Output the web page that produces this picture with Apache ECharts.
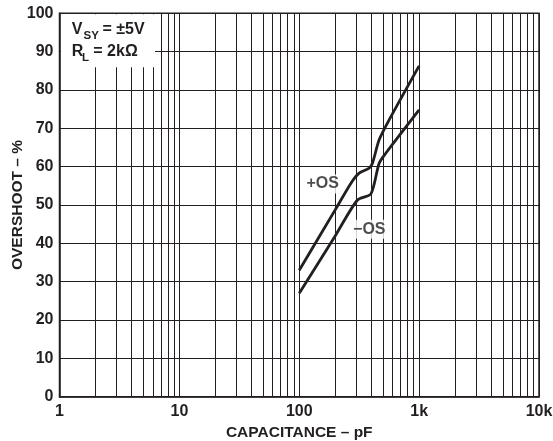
<!DOCTYPE html>
<html>
<head>
<meta charset="utf-8">
<script src="https://cdn.jsdelivr.net/npm/echarts@6/dist/echarts.min.js"></script>
<style>
html,body{margin:0;padding:0;background:#fff;}
#chart{width:553px;height:441px;}
</style>
</head>
<body>
<div id="chart"></div>
<script>
// ---- data ----
const xTickValues = [1, 10, 100, 1000, 10000];
const xTickLabels = ['1', '10', '100', '1k', '10k'];
const minorGridValues = [2,3,4,5,6,7,8,9,20,30,40,50,60,70,80,90,200,300,400,500,600,700,800,900,2000,3000,4000,5000,6000,7000,8000,9000];
const capPos = [100, 200, 270, 316, 383, 408, 464, 562, 1000];
const posOS  = [33, 48.8, 55.7, 58.3, 59.6, 60.9, 67, 72.2, 86.3];
const capNeg = [100, 200, 306, 396, 464, 527, 1000];
const negOS  = [27, 42, 51.3, 52.9, 60.9, 63.5, 74.8];
const labelX = [157, 384];
const labelY = [55.5, 43.7];
const labelText = ['+OS', '\u2212OS'];

const INK = '#231f20';
const FONT = '"Liberation Sans", Arial, Helvetica, sans-serif';

const chart = echarts.init(document.getElementById('chart'), null, {renderer: 'canvas'});

function txt(x, baseline, text, size) {
  return {type: 'text', z: 101, x: x, y: baseline - 0.36 * size,
    style: {text: text, font: 'bold ' + size + 'px ' + FONT, fill: INK, verticalAlign: 'middle', align: 'left'}};
}

const option = {
  animation: false,
  backgroundColor: '#fff',
  grid: {left: 59.5, right: 14, top: 13.3, bottom: 44.3, containLabel: false, outerBoundsMode: 'none',
    show: true, borderColor: INK, borderWidth: 1.5, backgroundColor: 'transparent'},
  xAxis: {
    type: 'log', logBase: 10, min: 1, max: 10000,
    name: 'CAPACITANCE \u2013 pF', nameLocation: 'middle', nameGap: 28, nameMoveOverlap: false,
    nameTextStyle: {fontFamily: FONT, fontWeight: 'bold', fontSize: 15.5, color: INK},
    axisLine: {show: true, lineStyle: {color: INK, width: 1.5}},
    axisTick: {show: false},
    axisLabel: {
      fontFamily: FONT, fontWeight: 'bold', fontSize: 16, color: INK, margin: 7,
      formatter: function (v) { const i = xTickValues.indexOf(Math.round(v)); return i >= 0 ? xTickLabels[i] : ''; }
    },
    splitLine: {show: true, lineStyle: {color: INK, width: 1}}
  },
  yAxis: {
    type: 'value', min: 0, max: 100, interval: 10,
    name: 'OVERSHOOT \u2013 %', nameLocation: 'middle', nameGap: 34, nameRotate: 90, nameMoveOverlap: false,
    nameTextStyle: {fontFamily: FONT, fontWeight: 'bold', fontSize: 15.5, color: INK},
    axisLine: {show: true, lineStyle: {color: INK, width: 1.5}},
    axisTick: {show: false},
    axisLabel: {fontFamily: FONT, fontWeight: 'bold', fontSize: 16, color: INK, margin: 6},
    splitLine: {show: true, lineStyle: {color: INK, width: 1}}
  },
  series: [
    {
      type: 'line', name: 'minor', data: [], silent: true,
      markLine: {
        silent: true, symbol: 'none', animation: false,
        label: {show: false},
        lineStyle: {color: INK, width: 1, type: 'solid'},
        data: minorGridValues.map(v => ({xAxis: v}))
      }
    },
    {
      type: 'line', name: '+OS', smooth: 0.25, symbol: 'none', z: 5,
      lineStyle: {color: INK, width: 2.8},
      data: capPos.map((c, i) => [c, posOS[i]])
    },
    {
      type: 'line', name: '-OS', smooth: 0.25, symbol: 'none', z: 5,
      lineStyle: {color: INK, width: 2.8},
      data: capNeg.map((c, i) => [c, negOS[i]])
    },
    {
      type: 'scatter', name: 'labels', symbolSize: 0, z: 6, silent: true,
      data: labelX.map((x, i) => ({value: [x, labelY[i]], name: labelText[i]})),
      label: {
        show: true, position: 'inside', formatter: p => p.name,
        fontFamily: FONT, fontWeight: 'bold', fontSize: 16, color: INK,
        backgroundColor: '#fff', padding: [2, 2, 1, 2]
      }
    }
  ],
  graphic: [
    {type: 'rect', z: 100, shape: {x: 61, y: 14.2, width: 94, height: 53}, style: {fill: '#fff'}},
    txt(71.7, 35.7, 'V', 16),
    txt(83.6, 39.5, 'SY', 11.5),
    txt(102.5, 35.7, '= \u00b15V', 16),
    txt(71.7, 57.3, 'R', 16),
    txt(82, 61.5, 'L', 11.5),
    txt(93.3, 57.3, '= 2k\u03a9', 16)
  ]
};
chart.setOption(option);
</script>
</body>
</html>
